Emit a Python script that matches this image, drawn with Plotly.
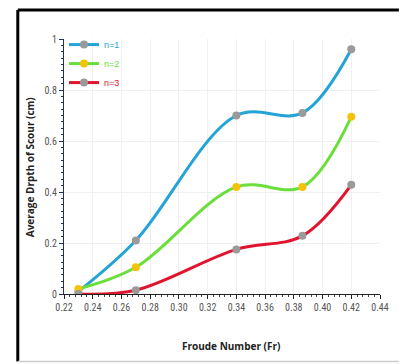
import plotly.graph_objects as go

# Froude number of each test run
froude = [0.23, 0.27, 0.34, 0.386, 0.42]

# Average scour depth (cm) for each n
depth_n1 = [0.01, 0.21, 0.70, 0.71, 0.96]
depth_n2 = [0.02, 0.105, 0.42, 0.42, 0.695]
depth_n3 = [0.0, 0.015, 0.175, 0.228, 0.428]

series_names = ["n=1", "n=2", "n=3"]
line_colors = ["#23a3d6", "#6ade3a", "#e0142e"]
marker_colors = ["#9a9a9a", "#f5c20a", "#9a9a9a"]

x_ticks = [0.22, 0.24, 0.26, 0.28, 0.30, 0.32, 0.34, 0.36, 0.38, 0.40, 0.42, 0.44]
y_ticks = [0, 0.2, 0.4, 0.6, 0.8, 1.0]

fig = go.Figure()
for name, ys, lc, mc in zip(series_names, [depth_n1, depth_n2, depth_n3], line_colors, marker_colors):
    fig.add_trace(go.Scatter(
        x=froude, y=ys, mode="lines+markers",
        name=f'<span style="color:{lc}">{name}</span>',
        line=dict(color=lc, width=3, shape="spline", smoothing=1.0),
        marker=dict(color=mc, size=8, symbol="circle"),
    ))

tick_font = dict(family="Liberation Sans Narrow, Roboto Condensed, Arial Narrow, sans-serif", size=10, color="#555555")

fig.update_layout(
    width=401, height=364,
    margin=dict(l=64, r=19, t=39, b=70),
    paper_bgcolor="white", plot_bgcolor="white",
    showlegend=True,
    legend=dict(x=0.0, y=1.035, xanchor="left", yanchor="top",
                bgcolor="rgba(0,0,0,0)", font=dict(family="Liberation Sans Narrow, sans-serif", size=9),
                itemwidth=30, tracegroupgap=0),
    xaxis=dict(range=[0.22, 0.44], tickvals=x_ticks, ticktext=[f"{v:.2f}" for v in x_ticks],
               showline=True, linecolor="#222222", linewidth=1.2,
               ticks="outside", ticklen=4, tickcolor="#222222",
               minor=dict(dtick=0.004, ticks="outside", ticklen=2, tickcolor="#444444", showgrid=False),
               showgrid=True, gridcolor="#f0f0f0", zeroline=False, tickfont=tick_font),
    yaxis=dict(range=[0, 1], tickvals=y_ticks, ticktext=["0", "0.2", "0.4", "0.6", "0.8", "1"],
               showline=True, linecolor="#1f3060", linewidth=1.2,
               ticks="outside", ticklen=4, tickcolor="#1f3060",
               minor=dict(dtick=0.025, ticks="outside", ticklen=2, tickcolor="#1f3060", showgrid=False),
               showgrid=True, gridcolor="#f0f0f0", zeroline=False, tickfont=tick_font),
    xaxis2=dict(range=[0.22, 0.44], overlaying="x", anchor="y", side="bottom",
                tickvals=x_ticks, showticklabels=False, showgrid=False, zeroline=False,
                ticks="inside", ticklen=4, tickcolor="#222222",
                minor=dict(dtick=0.004, ticks="inside", ticklen=2, tickcolor="#444444")),
    yaxis2=dict(range=[0, 1], overlaying="y", anchor="x", side="left",
                tickvals=y_ticks, showticklabels=False, showgrid=False, zeroline=False,
                ticks="inside", ticklen=4, tickcolor="#1f3060",
                minor=dict(dtick=0.025, ticks="inside", ticklen=2, tickcolor="#1f3060")),
)

title_font = dict(family="Open Sans, Liberation Sans, sans-serif", size=10, color="#222222")
fig.add_annotation(text="<b>Froude Number (Fr)</b>", xref="paper", yref="paper",
                   x=(232 - 64) / 318, y=(294 - 346) / 255, showarrow=False,
                   xanchor="center", yanchor="middle", font=title_font)
fig.add_annotation(text="<b>Average Drpth of Scour (cm)</b>", xref="paper", yref="paper",
                   x=(30 - 64) / 318, y=(294 - 167) / 255, showarrow=False, textangle=-90,
                   xanchor="center", yanchor="middle", font=title_font)

# frame around the chart
left, top, bottom, right = (17.5 - 64) / 318, (294 - 10) / 255, (294 - 361.5) / 255, (401 - 64) / 318
fig.add_shape(type="line", xref="paper", yref="paper", x0=left, x1=left, y0=bottom, y1=top,
              line=dict(color="black", width=3))
fig.add_shape(type="line", xref="paper", yref="paper", x0=left, x1=right, y0=top, y1=top,
              line=dict(color="black", width=3))
fig.add_shape(type="line", xref="paper", yref="paper", x0=left, x1=right, y0=bottom, y1=bottom,
              line=dict(color="#cccccc", width=1.5))

fig.write_html("out.html")
